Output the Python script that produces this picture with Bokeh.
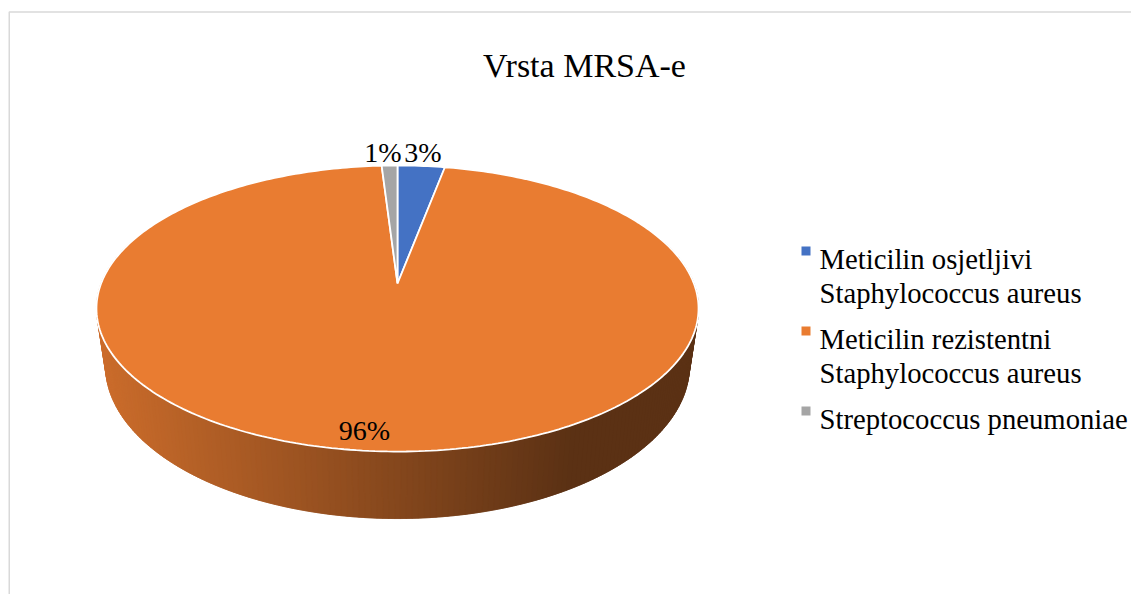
import numpy as np
from bokeh.plotting import figure
from bokeh.models import Range1d, ColumnDataSource
from bokeh.core.properties import value
from bokeh.embed import file_html
from bokeh.resources import INLINE

# ---------------- data ----------------
title_text = "Vrsta MRSA-e"
categories = ["Meticilin osjetljivi\nStaphylococcus aureus",
              "Meticilin rezistentni\nStaphylococcus aureus",
              "Streptococcus pneumoniae"]
values = [3, 96, 1]
colors = ["#4472C4", "#E97C31", "#A5A5A5"]
pct_labels = ["3%", "96%", "1%"]

# ---------------- layout ----------------
W, H = 1131, 594
OFF = 0                      # canvas offset
CX, BY = 397.0, 283.0        # pie apex (px)
RX = 296.4                   # horizontal radius
PA, PC = -89.2, 0.1748       # perspective terms
D0 = 55.3                    # depth of the pie side
S_BOT = 0.97                 # bottom face shrink
FONT = "Liberation Serif"


def proj(u, v):
    den = 1.0 + PC * v
    return CX + RX * u / den - OFF, (PA * v + BY) / den - OFF


def proj_bottom(u, v):
    den = 1.0 + PC * v
    return CX + S_BOT * RX * u / den - OFF, (PA * v + BY) / den + D0 / den - OFF


p = figure(width=W, height=H, x_range=Range1d(0, W), y_range=Range1d(H, 0),
           output_backend="svg", toolbar_location=None, min_border=0,
           x_axis_type=None, y_axis_type=None)
p.grid.visible = False
p.outline_line_color = None
p.background_fill_color = "white"
p.border_fill_color = "white"

# chart border
p.quad(left=8.75, right=W + 20, top=11.5, bottom=H + 20, fill_color=None,
       line_color="#D9D9D9", line_width=1.5)

# ---------------- side of the pie (gradient strips) ----------------
def lerp_col(t):
    c0 = np.array([203, 108, 43])
    c1 = np.array([91, 49, 20])
    t = min(max(t, 0.0), 1.0)
    c = (c0 + (c1 - c0) * t).round().astype(int)
    return "#%02x%02x%02x" % tuple(c)

N = 220
phis = np.radians(np.linspace(72, 288, N + 2))
sx, sy, scol = [], [], []
for i in range(N):
    a0, a1 = phis[i], phis[i + 2]          # overlapping strips, no seams
    u0, v0 = np.sin(a0), np.cos(a0)
    u1, v1 = np.sin(a1), np.cos(a1)
    t0 = proj(u0, v0); t1 = proj(u1, v1)
    b0 = proj_bottom(u0, v0); b1 = proj_bottom(u1, v1)
    sx.append([t0[0], t1[0], b1[0], b0[0]])
    sy.append([t0[1], t1[1], b1[1], b0[1]])
    xm = (t0[0] + t1[0]) / 2 + OFF
    scol.append(lerp_col((xm - 96) / (570 - 96)))
p.patches(xs=sx, ys=sy, fill_color=scol, line_color=scol, line_width=0.6)

# ---------------- top face slices ----------------
total = float(sum(values))
xs, ys = [], []
cum = 0.0
for v in values:
    f0, f1 = cum / total, (cum + v) / total
    cum += v
    n = max(3, int(360 * (f1 - f0)) + 2)
    ang = np.linspace(f0, f1, n) * 2 * np.pi
    px, py = [], []
    ax, ay = proj(0.0, 0.0)
    px.append(ax); py.append(ay)
    for a in ang:
        x, y = proj(np.sin(a), np.cos(a))
        px.append(x); py.append(y)
    xs.append(px); ys.append(py)
src = ColumnDataSource(dict(xs=xs, ys=ys, color=colors, name=categories))
p.patches(xs="xs", ys="ys", fill_color="color", line_color="white",
          line_width=1.8, source=src)

# ---------------- data labels ----------------
label_pos = [(422.5, 152), (364, 430), (382.5, 152)]
p.text(x=[q[0] - OFF for q in label_pos], y=[q[1] - OFF for q in label_pos],
       text=pct_labels, text_font=value(FONT), text_font_size="28px",
       text_color="#000000", text_align="center", text_baseline="alphabetic")

# ---------------- title ----------------
p.text(x=[584 - OFF], y=[65 - OFF], text=[title_text], text_font=value(FONT),
       text_font_size="34px", text_color="#000000", text_align="center",
       text_baseline="alphabetic")

# ---------------- legend ----------------
LX_MARK, LX_TEXT = 805.5, 819
base = 258.0
mx, my, tx, ty, tt = [], [], [], [], []
for cat, col in zip(categories, colors):
    lines = cat.split("\n")
    mx.append(LX_MARK - OFF); my.append(base - 7.5 - OFF)
    for j, ln in enumerate(lines):
        tx.append(LX_TEXT - OFF); ty.append(base + 34 * j - OFF); tt.append(ln)
    base += 34 * len(lines) + 12
p.scatter(x=mx, y=my, marker="square", size=9, fill_color=colors,
          line_color=None)
p.text(x=tx, y=ty, text=tt, text_font=value(FONT), text_font_size="28.7px",
       text_color="#000000", text_align="left", text_baseline="alphabetic")

open("out.html", "w").write(file_html(p, INLINE))
